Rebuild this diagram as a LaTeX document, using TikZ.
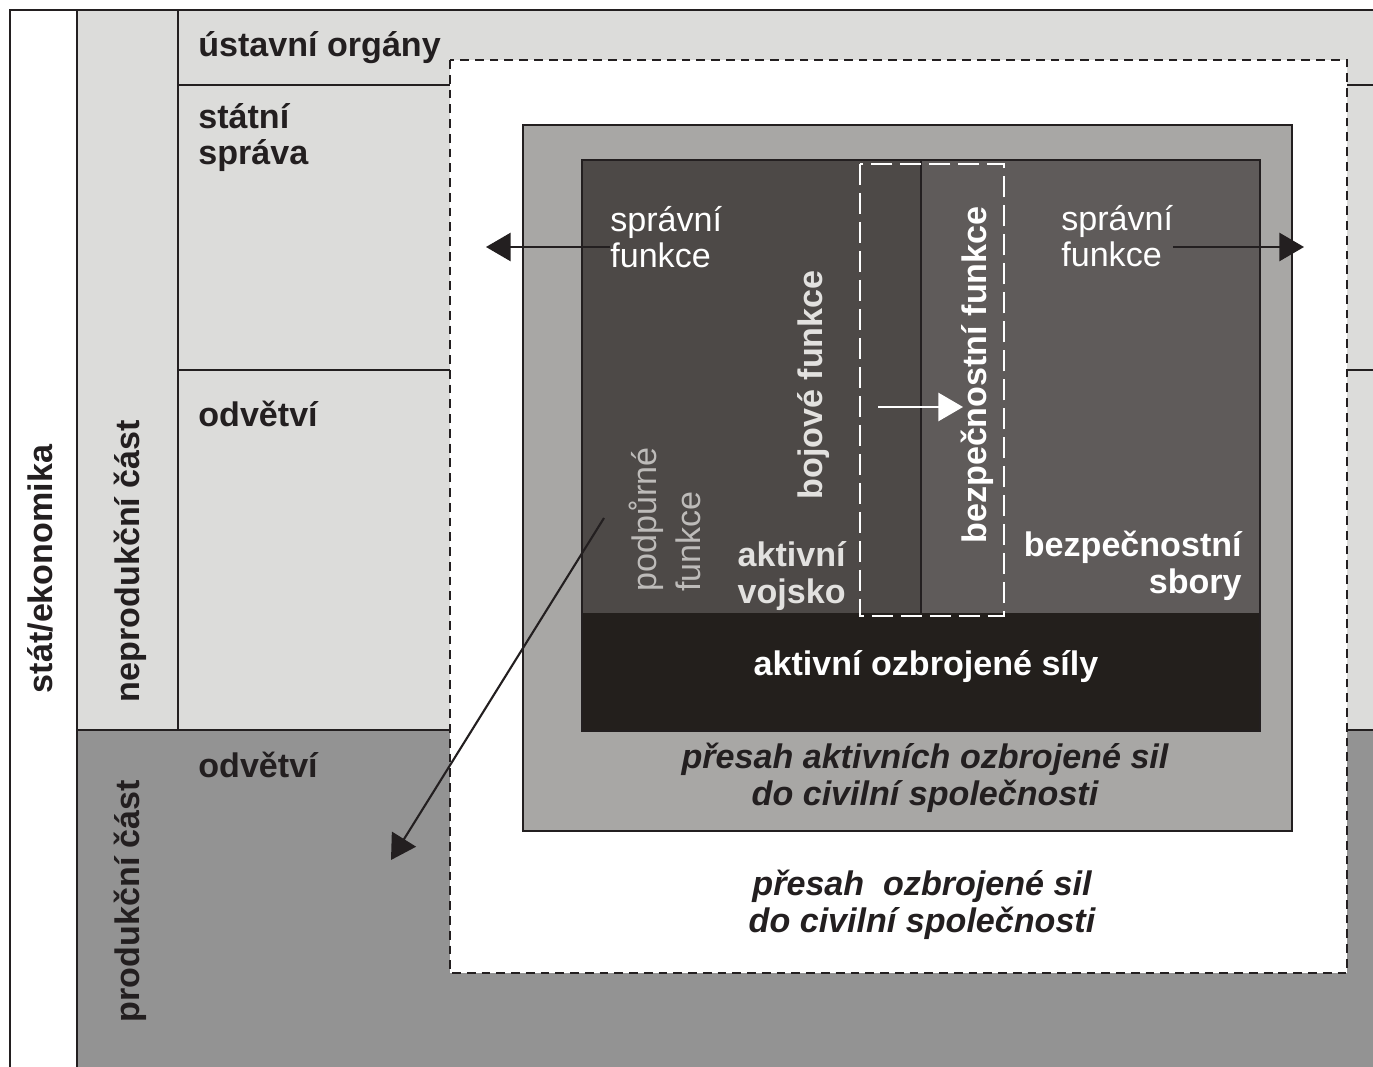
\documentclass[tikz,border=0pt]{standalone}
\usepackage{fontspec}
\setmainfont{Liberation Sans}
\usetikzlibrary{arrows.meta}
\definecolor{linka}{HTML}{231F20}
\definecolor{svetla}{HTML}{DCDCDA}
\definecolor{produkce}{HTML}{939393}
\definecolor{presah}{HTML}{A8A7A5}
\definecolor{vojsko}{HTML}{4D4947}
\definecolor{sbory}{HTML}{5F5B5A}
\definecolor{cerna}{HTML}{231F1C}
\definecolor{svetlytext}{HTML}{E2E1DF}
\definecolor{podtext}{HTML}{BDBBB9}

\begin{document}
\begin{tikzpicture}[x=0.02cm, y=-0.02cm]
\tikzset{popis/.style={inner sep=0, font=\fontsize{19.4}{21}\selectfont\bfseries, text=linka},
  bily/.style={popis, text=white},
  kurziva/.style={popis, font=\fontsize{19.4}{21}\selectfont\bfseries\itshape},
  tenky/.style={inner sep=0, font=\fontsize{19.4}{20.5}\selectfont, text=white},
  ramec/.style={draw=linka, line width=1.5pt},
  sipka/.style={draw=linka, line width=1.2pt, -{Triangle[length=14pt, width=16pt]}}}
\useasboundingbox (0,0) rectangle (1373,1067);
\fill[svetla] (77,10) rectangle (1373,730);
\fill[produkce] (77,730) rectangle (1373,1067);
\draw[ramec] (10,1067) -- (10,10) -- (1373,10);
\draw[ramec] (77,10) -- (77,1067);
\draw[ramec] (178,10) -- (178,730);
\draw[ramec] (178,85) -- (1373,85);
\draw[ramec] (178,370) -- (1373,370);
\draw[ramec] (77,730) -- (1373,730);
\draw[draw=linka, fill=white, line width=1.2pt, dash pattern=on 5pt off 3.4pt] (450,60) rectangle (1347,973);
\draw[ramec, fill=presah] (523,125) rectangle (1292,831);
\fill[vojsko] (582,160) rectangle (921,613);
\fill[sbory] (921,160) rectangle (1260,613);
\fill[cerna] (582,613) rectangle (1260,731);
\draw[ramec] (921,160) -- (921,613);
\draw[ramec] (582,160) rectangle (1260,731);
\draw[white, line width=1.2pt, dash pattern=on 12pt off 4.5pt] (860,164) rectangle (1004,616);

\node[popis, rotate=90, anchor=base] (stat) at (52,569) {stát/ekonomika};
\node[popis, rotate=90, anchor=base] (neprod) at (139,561) {neprodukční část};
\node[popis, rotate=90, anchor=base] (prod) at (139,901) {produkční část};
\node[popis, anchor=base west] (ustav) at (198,57) {ústavní orgány};
\node[popis, anchor=base west, align=left] (sprava) at (198,165) {státní\\správa};
\node[popis, anchor=base west] (odvN) at (198,427) {odvětví};
\node[popis, anchor=base west] (odvP) at (198,777) {odvětví};
\node[tenky, anchor=base west, align=left] (spravL) at (610,268) {správní\\funkce};
\node[tenky, anchor=base west, align=left] (spravR) at (1061,267) {správní\\funkce};
\node[popis, text=svetlytext, rotate=90, anchor=base] (boj) at (822,385) {bojové funkce};
\node[bily, rotate=90, anchor=base] (bezf) at (986,375) {bezpečnostní funkce};
\node[tenky, text=podtext, font=\fontsize{19.4}{24.5}\selectfont, rotate=90, anchor=base west, align=left] (podp) at (700,592) {podpůrné\\funkce};
\node[popis, text=svetlytext, anchor=base east, align=right] (aktv) at (846,603) {aktivní\\vojsko};
\node[bily, anchor=base east, align=right] (bsb) at (1242,593) {bezpečnostní\\sbory};
\node[bily, anchor=base] (aos) at (926,675) {aktivní ozbrojené síly};
\node[kurziva, anchor=base, align=center] (presahA) at (925,805) {přesah aktivních ozbrojené sil\\do civilní společnosti};
\node[kurziva, anchor=base, align=center] (presahB) at (922,932) {přesah\ \ ozbrojené sil\\do civilní společnosti};

\coordinate (sipL) at (486,247);
\coordinate (sipR) at (1304,247);
\coordinate (bojA) at (878,407);
\coordinate (bezA) at (963,407);
\coordinate (podA) at (604,518);
\coordinate (prodA) at (391,860);
\draw[sipka] (spravL.west |- sipL) -- (sipL);
\draw[sipka] (spravR.east |- sipR) -- (sipR);
\draw[sipka, draw=white] (bojA) -- (bezA);
\draw[sipka] (podA) -- (prodA);
\end{tikzpicture}
\end{document}
